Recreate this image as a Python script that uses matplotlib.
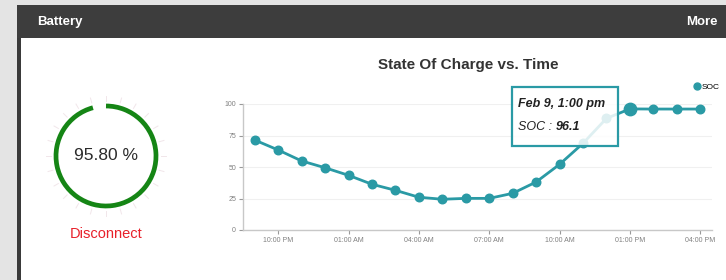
import numpy as np
import matplotlib
matplotlib.use("Agg")
import matplotlib.pyplot as plt
from matplotlib.patches import Rectangle, Arc

plt.rcParams['font.family'] = ['Liberation Sans', 'DejaVu Sans']

# data
battery_pct = 95.80
status = "Disconnect"
hours = [21, 22, 23, 24, 25, 26, 27, 28, 29, 30, 31, 32, 33, 34, 35, 36, 37, 38, 39, 40]
soc = [71.4, 63.5, 54.8, 49.4, 43.4, 36.3, 31.5, 26.0, 24.4, 25.1,
       25.1, 29.1, 38.1, 52.1, 68.8, 88.6, 96.1, 96.0, 96.0, 96.0]
tick_hours = [22, 25, 28, 31, 34, 37, 40]
tick_labels = ["10:00 PM", "01:00 AM", "04:00 AM", "07:00 AM", "10:00 AM", "01:00 PM", "04:00 PM"]
y_ticks = [0, 25, 50, 75, 100]
hover_idx = 16
hover_label = "Feb 9, 1:00 pm"

W, H = 726, 280
teal = "#2a9aa5"
fig = plt.figure(figsize=(W / 100, H / 100), dpi=100)
fig.patch.set_facecolor("#e4e4e4")


def px(x0, y0, w, h):
    # pixel box (top-left origin) -> figure fraction
    return [x0 / W, 1 - (y0 + h) / H, w / W, h / H]


# panel + header
fig.add_artist(Rectangle((17 / W, 0), 1, 1 - 5 / H, transform=fig.transFigure,
                         facecolor="white", edgecolor="none", zorder=-10))
fig.add_artist(Rectangle((17 / W, 0), 4 / W, 1 - 5 / H, transform=fig.transFigure,
                         facecolor="#3a3a3a", edgecolor="none", zorder=-9))
fig.add_artist(Rectangle((17 / W, 1 - 38 / H), 1, 33 / H, transform=fig.transFigure,
                         facecolor="#3d3d3d", edgecolor="none", zorder=-9))
fig.text(37 / W, 1 - 22 / H, "Battery", color="white", fontsize=9.5, fontweight="bold",
         va="center", ha="left")
fig.text(718 / W, 1 - 22 / H, "More", color="white", fontsize=9.5, fontweight="bold",
         va="center", ha="right")

# gauge
ag = fig.add_axes(px(40, 90, 132, 132))
ag.set_xlim(-66, 66)
ag.set_ylim(-66, 66)
ag.set_aspect("equal")
ag.axis("off")
for a in np.arange(0, 360, 15):
    t = np.deg2rad(a)
    ag.plot([55 * np.cos(t), 60 * np.cos(t)], [55 * np.sin(t), 60 * np.sin(t)],
            color="#f1e6ea", lw=0.7)
gap = (1 - battery_pct / 100) * 360
ag.add_patch(Arc((0, 0), 100, 100, theta1=90 + gap, theta2=450,
                 color="#158515", lw=3.4))
ag.text(0, 0, f"{battery_pct:.2f} %", ha="center", va="center", fontsize=12.5, color="#2b2b2b")
fig.text(106 / W, 1 - 234 / H, status, ha="center", va="center", fontsize=10.5, color="#e8202a")

# SOC chart
ax = fig.add_axes(px(243, 104, 469, 126))
ax.patch.set_alpha(0)
ax.plot(hours, soc, color=teal, lw=2, zorder=3, clip_on=False)
ax.scatter(hours, soc, s=38, color=teal, zorder=4, clip_on=False)
ax.scatter([hours[hover_idx]], [soc[hover_idx]], s=80, color=teal, zorder=5, clip_on=False)
ax.set_xlim(20.5, 40.5)
ax.set_ylim(0, 100)
ax.set_yticks(y_ticks)
ax.set_xticks(tick_hours)
ax.set_xticklabels(tick_labels)
ax.tick_params(axis="both", labelsize=5, colors="#999999", length=3, width=0.8, pad=2,
               labelcolor="#808080")
for s in ["top", "right"]:
    ax.spines[s].set_visible(False)
for s in ["left", "bottom"]:
    ax.spines[s].set_color("#c8c8c8")
    ax.spines[s].set_linewidth(1)
ax.grid(axis="y", color="#f0f0f0", lw=0.8)
ax.set_axisbelow(True)

fig.text(468 / W, 1 - 65 / H, "State Of Charge vs. Time", ha="center", va="center",
         fontsize=11, fontweight="bold", color="#333333")

# legend
ax.legend(handles=[plt.Line2D([], [], marker="o", color=teal, ls="none", markersize=5)],
          labels=["SOC"], loc="upper right", bbox_to_anchor=(724 / W, 1 - 79 / H),
          bbox_transform=fig.transFigure, frameon=False, fontsize=6, handletextpad=0.1,
          borderpad=0, handlelength=1)

# tooltip
fig.add_artist(Rectangle((512 / W, 1 - 146 / H), 106 / W, 59 / H, transform=fig.transFigure,
                         facecolor="white", alpha=0.85, edgecolor="none", zorder=10))
fig.add_artist(Rectangle((512 / W, 1 - 146 / H), 106 / W, 59 / H, transform=fig.transFigure,
                         facecolor="none", edgecolor=teal, lw=1.6, zorder=11))
fig.text(518 / W, 1 - 104 / H, hover_label, ha="left", va="center", fontsize=9,
         fontweight="bold", style="italic", color="#222222", zorder=12)
fig.text(518 / W, 1 - 127 / H, "SOC : ", ha="left", va="center", fontsize=9,
         style="italic", color="#222222", zorder=12)
fig.text(556 / W, 1 - 127 / H, f"{soc[hover_idx]:.1f}", ha="left", va="center", fontsize=9,
         fontweight="bold", style="italic", color="#222222", zorder=12)

fig.savefig("out.png", dpi=100, facecolor=fig.get_facecolor())
